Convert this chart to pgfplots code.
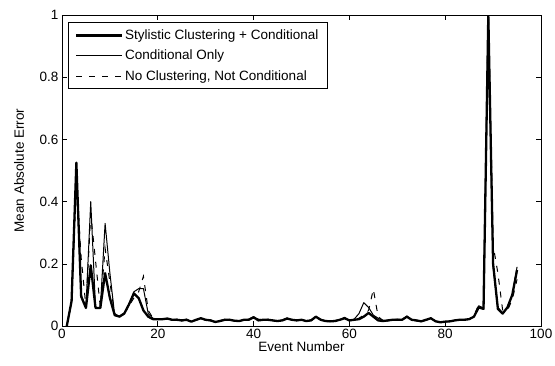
\documentclass[border=0pt]{standalone}
\usepackage{pgfplots}
\pgfplotsset{compat=1.18}
\usepackage{pgfplotstable}
\usepackage{fontspec}
\setmainfont{Liberation Sans}
\usetikzlibrary{calc}
\pgfplotstableread{
x s c n
1 0.000 0.000 0.000
2 0.080 0.080 0.078
3 0.525 0.500 0.470
4 0.095 0.100 0.220
5 0.058 0.060 0.060
6 0.195 0.400 0.360
7 0.058 0.060 0.210
8 0.058 0.058 0.060
9 0.170 0.330 0.250
10 0.090 0.170 0.140
11 0.035 0.035 0.040
12 0.030 0.032 0.030
13 0.040 0.042 0.040
14 0.070 0.068 0.065
15 0.105 0.110 0.090
16 0.090 0.120 0.110
17 0.050 0.120 0.160
18 0.030 0.040 0.050
19 0.022 0.025 0.025
20 0.022 0.022 0.024
21 0.022 0.024 0.022
22 0.024 0.022 0.025
23 0.020 0.020 0.018
24 0.020 0.022 0.020
25 0.018 0.016 0.018
26 0.020 0.020 0.022
27 0.014 0.015 0.013
28 0.020 0.018 0.020
29 0.025 0.024 0.026
30 0.020 0.018 0.020
31 0.018 0.020 0.017
32 0.013 0.012 0.014
33 0.016 0.018 0.016
34 0.020 0.020 0.022
35 0.020 0.021 0.019
36 0.017 0.016 0.018
37 0.016 0.017 0.015
38 0.020 0.018 0.020
39 0.020 0.022 0.021
40 0.028 0.030 0.028
41 0.018 0.020 0.022
42 0.020 0.018 0.020
43 0.020 0.022 0.019
44 0.018 0.017 0.018
45 0.016 0.015 0.016
46 0.018 0.020 0.018
47 0.024 0.026 0.024
48 0.020 0.018 0.020
49 0.018 0.020 0.017
50 0.020 0.019 0.021
51 0.016 0.015 0.016
52 0.018 0.020 0.018
53 0.030 0.030 0.028
54 0.020 0.022 0.020
55 0.016 0.016 0.017
56 0.015 0.014 0.015
57 0.016 0.018 0.016
58 0.020 0.020 0.020
59 0.025 0.028 0.025
60 0.018 0.016 0.019
61 0.020 0.022 0.020
62 0.022 0.040 0.025
63 0.030 0.075 0.035
64 0.042 0.060 0.050
65 0.030 0.035 0.118
66 0.018 0.025 0.030
67 0.016 0.018 0.018
68 0.018 0.016 0.018
69 0.020 0.020 0.020
70 0.020 0.022 0.020
71 0.020 0.020 0.021
72 0.030 0.032 0.030
73 0.020 0.020 0.020
74 0.018 0.016 0.018
75 0.015 0.014 0.015
76 0.020 0.018 0.020
77 0.025 0.024 0.025
78 0.015 0.016 0.016
79 0.012 0.012 0.013
80 0.014 0.012 0.014
81 0.015 0.016 0.015
82 0.018 0.018 0.018
83 0.020 0.020 0.020
84 0.020 0.021 0.020
85 0.022 0.022 0.022
86 0.030 0.030 0.035
87 0.060 0.065 0.068
88 0.055 0.058 0.055
89 1.000 1.010 1.020
90 0.200 0.190 0.260
91 0.055 0.060 0.170
92 0.040 0.042 0.050
93 0.060 0.058 0.050
94 0.100 0.100 0.085
95 0.180 0.190 0.150
}\data
\begin{document}
\begin{tikzpicture}
\begin{axis}[name=ax,
  width=479pt, height=311pt, scale only axis,
  xmin=0, xmax=100, ymin=0, ymax=1,
  xtick={0,20,40,60,80,100},
  ytick={0,0.2,0.4,0.6,0.8,1},
  tick align=inside, major tick length=5pt,
  axis line style={line width=0.8pt},
  tick style={line width=0.6pt, black},
  font=\fontsize{13.5}{16}\selectfont,
  /pgf/number format/assume math mode=true,
  yticklabel style={/pgf/number format/fixed, /pgf/number format/precision=1},
  xlabel={Event Number}, ylabel={Mean Absolute Error},
  xlabel style={at={(axis description cs:0.5,-0.0675)}, anchor=center},
  ylabel style={at={(axis description cs:-0.0898,0.5)}, anchor=center},
  legend style={at={(axis description cs:0.0115,0.976)}, anchor=north west,
    draw=black, line width=0.8pt, font=\fontsize{13.5}{16}\selectfont,
    inner xsep=7pt, inner ysep=5pt, row sep=5pt},
  legend cell align=left,
  legend image code/.code={\draw[#1] (0pt,0pt) -- (46pt,0pt);},
  clip=true]
\addplot[black, line width=2.3pt, line join=round] table[x=x,y=s]{\data};
\addlegendentry{Stylistic Clustering + Conditional}
\addplot[black, line width=1pt, line join=round] table[x=x,y=c]{\data};
\addlegendentry{Conditional Only}
\addplot[black, line width=1pt, dash pattern=on 6pt off 7pt] table[x=x,y=n]{\data};
\addlegendentry{No Clustering, Not Conditional}
\end{axis}
\pgfresetboundingbox
\path ($(ax.south west)+(-62pt,-39pt)$) rectangle ($(ax.north east)+(14pt,15pt)$);
\end{tikzpicture}
\end{document}
